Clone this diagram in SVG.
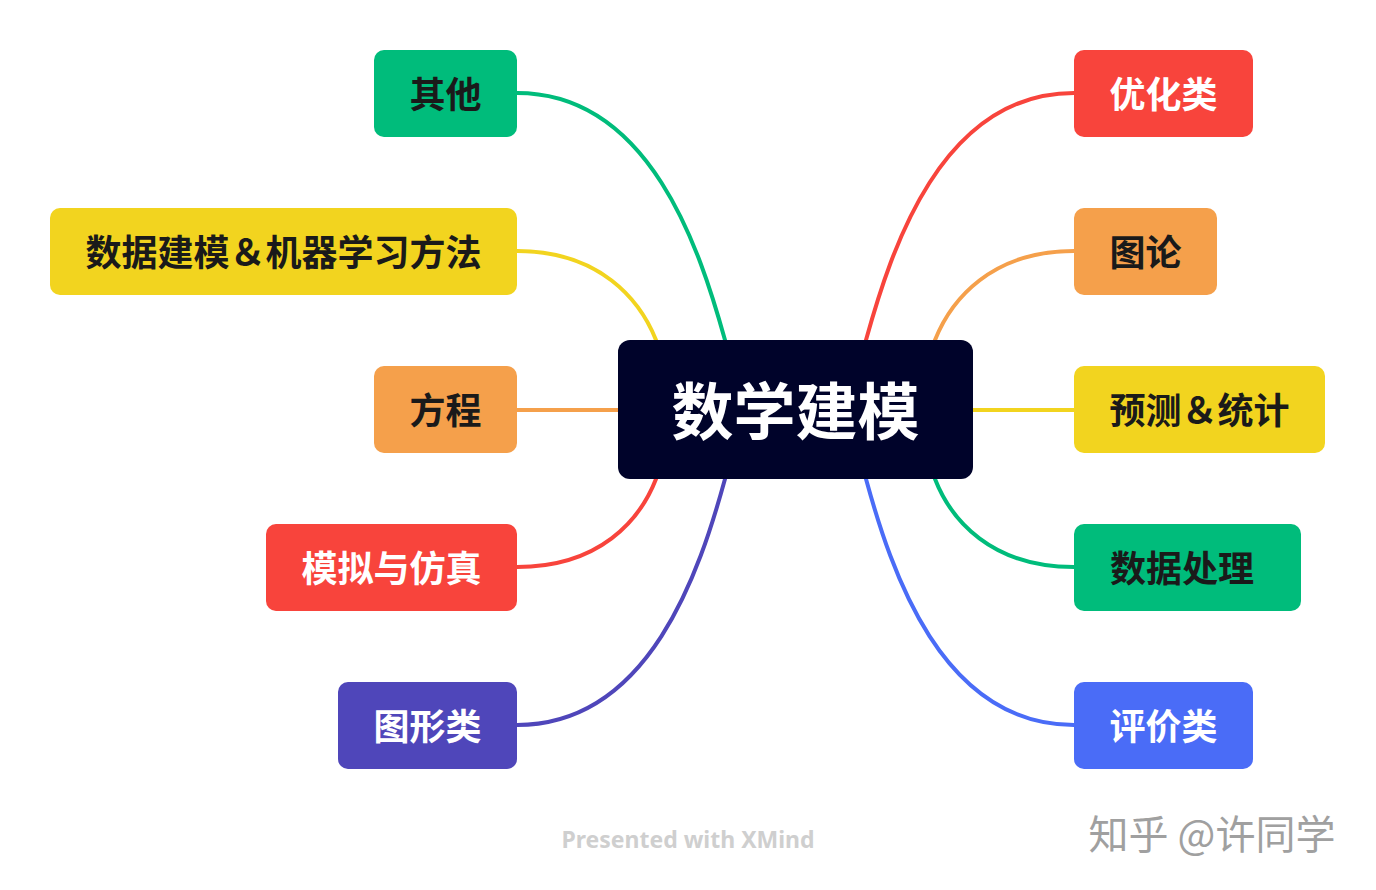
<svg xmlns="http://www.w3.org/2000/svg" width="1376" height="890" viewBox="0 0 1376 890">
<style>
.t{font-family:"Noto Sans CJK SC",sans-serif;font-weight:bold;font-size:36px;dominant-baseline:central}
.w{fill:#fff}.d{fill:#1a1a1a}
.c{fill:none;stroke-width:4;stroke-linecap:round}
</style>
<rect width="1376" height="890" fill="#fff"/>
<g id="connectors">
<path class="c" stroke="#00BC7B" d="M517,93 C650,93 700,250 725,340"/>
<path class="c" stroke="#F2D41F" d="M517,251 C600,251 640,300 656,340"/>
<path class="c" stroke="#F5A04B" d="M517,410 L618,410"/>
<path class="c" stroke="#F8443C" d="M517,567 C600,567 640,520 656,479"/>
<path class="c" stroke="#4F46BA" d="M517,725 C650,725 700,570 725,479"/>
<path class="c" stroke="#F8443C" d="M1074,93 C941,93 891,250 866,340"/>
<path class="c" stroke="#F5A04B" d="M1074,251 C991,251 951,300 935,340"/>
<path class="c" stroke="#F2D41F" d="M1074,410 L973,410"/>
<path class="c" stroke="#00BC7B" d="M1074,567 C991,567 951,520 935,479"/>
<path class="c" stroke="#4A6CF7" d="M1074,725 C941,725 891,570 866,479"/>
</g>
<g id="center"><rect x="618" y="340" width="355" height="139" rx="12" fill="#00032A"/><text class="t w" x="795.5" y="408" text-anchor="middle" style="font-size:62px">数学建模</text></g>
<g id="n1"><rect x="374" y="50" width="143" height="87" rx="10" fill="#00BC7B"/><text class="t d" x="445.5" y="92" text-anchor="middle">其他</text></g>
<g id="n2"><rect x="50" y="208" width="467" height="87" rx="10" fill="#F2D41F"/><text class="t d" x="283.5" y="250" text-anchor="middle">数据建模＆机器学习方法</text></g>
<g id="n3"><rect x="374" y="366" width="143" height="87" rx="10" fill="#F5A04B"/><text class="t d" x="445.5" y="408" text-anchor="middle">方程</text></g>
<g id="n4"><rect x="266" y="524" width="251" height="87" rx="10" fill="#F8443C"/><text class="t w" x="391.5" y="566" text-anchor="middle">模拟与仿真</text></g>
<g id="n5"><rect x="338" y="682" width="179" height="87" rx="10" fill="#4F46BA"/><text class="t w" x="427.5" y="724" text-anchor="middle">图形类</text></g>
<g id="n6"><rect x="1074" y="50" width="179" height="87" rx="10" fill="#F8443C"/><text class="t w" x="1163.5" y="92" text-anchor="middle">优化类</text></g>
<g id="n7"><rect x="1074" y="208" width="143" height="87" rx="10" fill="#F5A04B"/><text class="t d" x="1145.5" y="250" text-anchor="middle">图论</text></g>
<g id="n8"><rect x="1074" y="366" width="251" height="87" rx="10" fill="#F2D41F"/><text class="t d" x="1199.5" y="408" text-anchor="middle">预测＆统计</text></g>
<g id="n9"><rect x="1074" y="524" width="227" height="87" rx="10" fill="#00BC7B"/><text class="t d" x="1182" y="566" text-anchor="middle">数据处理</text></g>
<g id="n10"><rect x="1074" y="682" width="179" height="87" rx="10" fill="#4A6CF7"/><text class="t w" x="1163.5" y="724" text-anchor="middle">评价类</text></g>
<text x="688" y="839" text-anchor="middle" dominant-baseline="central" font-family="Noto Sans,sans-serif" font-weight="bold" font-size="23" fill="#cfcfcf">Presented with XMind</text>
<text x="1212" y="832" text-anchor="middle" dominant-baseline="central" font-family="Noto Sans CJK SC,sans-serif" font-size="40" fill="#a0a0a0">知乎 @许同学</text>
</svg>
